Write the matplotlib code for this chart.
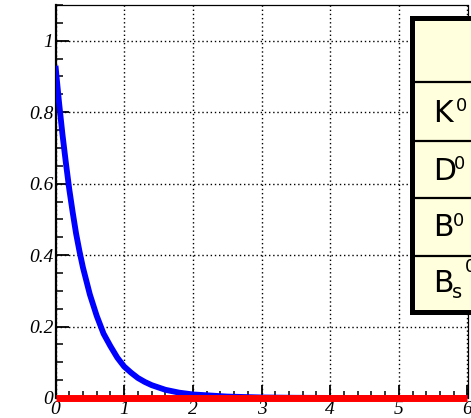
import matplotlib
matplotlib.use('Agg')
import matplotlib.pyplot as plt
from matplotlib.patches import Rectangle
from matplotlib.lines import Line2D
from matplotlib.ticker import MultipleLocator, FormatStrFormatter

# blue curve
t = [0, 0.05, 0.1, 0.15, 0.2, 0.25, 0.3, 0.35, 0.4, 0.5, 0.6, 0.7, 0.8, 0.9,
     1.0, 1.1, 1.2, 1.3, 1.4, 1.6, 1.8, 2.0, 2.5, 3.0, 3.5, 4.0, 5.0, 6.0]
prob = [0.93, 0.83, 0.74, 0.66, 0.585, 0.52, 0.46, 0.41, 0.365, 0.29, 0.23,
        0.18, 0.145, 0.113, 0.088, 0.071, 0.056, 0.045, 0.036, 0.023, 0.015,
        0.010, 0.004, 0.0015, 0.0006, 0.0002, 0.0, 0.0]
# red flat line
t_red = [0, 6]
prob_red = [0, 0]
# table rows: (letter, subscript, superscript)
particles = [('K', '', '0'), ('D', '', '0'), ('B', '', '0'), ('B', 's', '0')]

W, H = 471, 418
fig = plt.figure(figsize=(W / 100, H / 100), dpi=100)
ax = fig.add_axes([55.5 / W, 1 - 398 / H, 412 / W, 393 / H])


def fx(x):
    return x / W


def fy(y):
    return 1 - y / H


ax.plot(t, prob, color='blue', lw=4.2, solid_capstyle='butt',
        solid_joinstyle='round', zorder=3)
ax.plot(t_red, prob_red, color='red', lw=5, solid_capstyle='butt', zorder=4,
        clip_on=False)

ax.set_xlim(0, 6)
ax.set_ylim(0, 1.1)
ax.xaxis.set_major_locator(MultipleLocator(1))
ax.xaxis.set_minor_locator(MultipleLocator(0.2))
ax.yaxis.set_major_locator(MultipleLocator(0.2))
ax.yaxis.set_minor_locator(MultipleLocator(0.05))
ax.xaxis.set_major_formatter(FormatStrFormatter('%g'))
ax.yaxis.set_major_formatter(FormatStrFormatter('%g'))
ax.tick_params(which='both', direction='in', top=False, right=False, color='black')
ax.tick_params(which='major', length=9.5, width=1.3)
ax.tick_params(which='minor', length=5, width=1.1)
ax.tick_params(axis='y', pad=1.5)
ax.tick_params(axis='x', pad=2.5)
for lab in ax.get_xticklabels() + ax.get_yticklabels():
    lab.set_family('Liberation Serif')
    lab.set_style('italic')
    lab.set_size(14)
ax.grid(True, which='major', color='black', lw=1.0, linestyle=(0, (1.0, 2.0)))
ax.spines['left'].set_linewidth(1.6)
ax.spines['bottom'].set_linewidth(1.2)
ax.spines['top'].set_linewidth(0.9)
ax.spines['right'].set_linewidth(0.9)

# table box on the right, clipped by the canvas edge
box = Rectangle((fx(411.5), fy(311.5)), fx(90), (311.5 - 18) / H,
                transform=fig.transFigure, facecolor='#ffffdd', edgecolor='black',
                lw=3.6, zorder=10, clip_on=False)
fig.patches.append(box)
for yl in [81.5, 140.5, 197.5, 255.5]:
    fig.add_artist(Line2D([fx(413), fx(480)], [fy(yl), fy(yl)],
                          transform=fig.transFigure, color='black', lw=1.6,
                          zorder=11))

baselines = [121.5, 179.5, 236.5, 292.5]
sup_x = [455.5, 453.5, 453.0, 465.0]
for (letter, sub, sup), base, sx in zip(particles, baselines, sup_x):
    fig.text(fx(433), fy(base), letter, fontsize=21.5, family='DejaVu Sans',
             va='baseline', ha='left', zorder=12)
    if sub:
        fig.text(fx(451.5), fy(base + 5), sub, fontsize=14, family='DejaVu Sans',
                 va='baseline', ha='left', zorder=12)
        fig.text(fx(sx), fy(base - 20), sup, fontsize=13, family='DejaVu Sans',
                 va='baseline', ha='left', zorder=12)
    else:
        fig.text(fx(sx), fy(base - 10.5), sup, fontsize=13, family='DejaVu Sans',
                 va='baseline', ha='left', zorder=12)

fig.savefig('out.png', dpi=100)
